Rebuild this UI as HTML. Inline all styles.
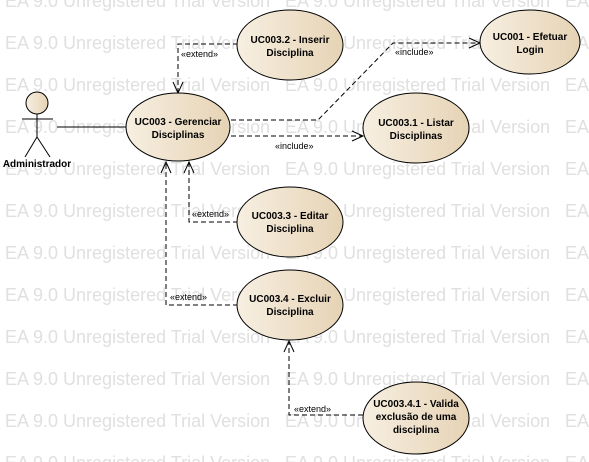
<!DOCTYPE html>
<html><head><meta charset="utf-8"><style>
html,body{margin:0;padding:0;background:#fff;}
svg{display:block;}
</style></head><body>
<svg width="589" height="462" xmlns="http://www.w3.org/2000/svg" font-family="Liberation Sans, sans-serif">
<defs>
<linearGradient id="g" x1="0" y1="0" x2="1" y2="0">
<stop offset="0" stop-color="#f7efe1"/><stop offset="1" stop-color="#e6d3b5"/>
</linearGradient>
</defs>
<g fill="#e0e0e0" font-size="18">
<text x="5" y="7">EA 9.0 Unregistered Trial Version</text><text x="285" y="7">EA 9.0 Unregistered Trial Version</text>
<text x="5" y="49">EA 9.0 Unregistered Trial Version</text><text x="285" y="49">EA 9.0 Unregistered Trial Version</text>
<text x="5" y="91">EA 9.0 Unregistered Trial Version</text><text x="285" y="91">EA 9.0 Unregistered Trial Version</text>
<text x="5" y="133">EA 9.0 Unregistered Trial Version</text><text x="285" y="133">EA 9.0 Unregistered Trial Version</text>
<text x="5" y="175">EA 9.0 Unregistered Trial Version</text><text x="285" y="175">EA 9.0 Unregistered Trial Version</text>
<text x="5" y="217">EA 9.0 Unregistered Trial Version</text><text x="285" y="217">EA 9.0 Unregistered Trial Version</text>
<text x="5" y="259">EA 9.0 Unregistered Trial Version</text><text x="285" y="259">EA 9.0 Unregistered Trial Version</text>
<text x="5" y="301">EA 9.0 Unregistered Trial Version</text><text x="285" y="301">EA 9.0 Unregistered Trial Version</text>
<text x="5" y="343">EA 9.0 Unregistered Trial Version</text><text x="285" y="343">EA 9.0 Unregistered Trial Version</text>
<text x="5" y="385">EA 9.0 Unregistered Trial Version</text><text x="285" y="385">EA 9.0 Unregistered Trial Version</text>
<text x="5" y="427">EA 9.0 Unregistered Trial Version</text><text x="285" y="427">EA 9.0 Unregistered Trial Version</text>
<text x="5" y="469">EA 9.0 Unregistered Trial Version</text><text x="285" y="469">EA 9.0 Unregistered Trial Version</text>
<text x="565" y="7">EA</text><text x="565" y="49">EA</text><text x="565" y="91">EA</text><text x="565" y="133">EA</text>
<text x="565" y="175">EA</text><text x="565" y="217">EA</text><text x="565" y="259">EA</text><text x="565" y="301">EA</text>
<text x="565" y="343">EA</text><text x="565" y="385">EA</text><text x="565" y="427">EA</text><text x="565" y="469">EA</text>
</g>
<g stroke="#000" stroke-width="1" fill="none">
<circle cx="37" cy="103" r="11" fill="url(#g)"/>
<line x1="37" y1="114" x2="37" y2="137"/>
<line x1="22" y1="119" x2="53" y2="119"/>
<line x1="37" y1="137" x2="25" y2="157"/>
<line x1="37" y1="137" x2="50" y2="157"/>
<line x1="57" y1="127" x2="126" y2="127"/>
</g>
<text x="37" y="167" font-size="10" font-weight="bold" text-anchor="middle">Administrador</text>
<g stroke="#000" stroke-width="1" fill="none" stroke-dasharray="5,3">
<polyline points="238,44 178,44 178,92"/>
<polyline points="231,120 318,120 393,43 479,43"/>
<polyline points="231,136 362,136"/>
<polyline points="238,222 189,222 189,162"/>
<polyline points="238,305 166,305 166,162"/>
<polyline points="363,415 289,415 289,341"/>
</g>
<g stroke="#000" stroke-width="1" fill="none">
<polyline points="173,82 178,93 183,82"/>
<polyline points="469,38 480,43 469,48"/>
<polyline points="352,131 363,136 352,141"/>
<polyline points="184,173 189,162 194,173"/>
<polyline points="161,173 166,162 171,173"/>
<polyline points="284,352 289,341 294,352"/>
</g>
<g font-size="9" fill="#000">
<text x="181" y="57">«extend»</text>
<text x="395" y="55">«include»</text>
<text x="275" y="149">«include»</text>
<text x="192" y="217">«extend»</text>
<text x="170" y="300">«extend»</text>
<text x="294" y="412">«extend»</text>
</g>
<g stroke="#000" stroke-width="1" fill="url(#g)">
<ellipse cx="178" cy="127" rx="52" ry="34"/>
<ellipse cx="290" cy="45" rx="53" ry="35"/>
<ellipse cx="530" cy="42" rx="50" ry="32"/>
<ellipse cx="416" cy="128" rx="53" ry="35"/>
<ellipse cx="290" cy="222" rx="53" ry="35"/>
<ellipse cx="290" cy="305" rx="53" ry="35"/>
<ellipse cx="416" cy="418" rx="53" ry="36"/>
</g>
<g font-size="10" font-weight="bold" text-anchor="middle" fill="#000">
<text x="178" y="125">UC003 - Gerenciar</text><text x="178" y="138">Disciplinas</text>
<text x="290" y="43">UC003.2 - Inserir</text><text x="290" y="56">Disciplina</text>
<text x="530" y="40">UC001 - Efetuar</text><text x="530" y="53">Login</text>
<text x="416" y="126">UC003.1 - Listar</text><text x="416" y="139">Disciplinas</text>
<text x="290" y="219">UC003.3 - Editar</text><text x="290" y="232">Disciplina</text>
<text x="290" y="302">UC003.4 - Excluir</text><text x="290" y="315">Disciplina</text>
<text x="416" y="407">UC003.4.1 - Valida</text><text x="416" y="420">exclusão de uma</text><text x="416" y="433">disciplina</text>
</g>
</svg>
</body></html>
